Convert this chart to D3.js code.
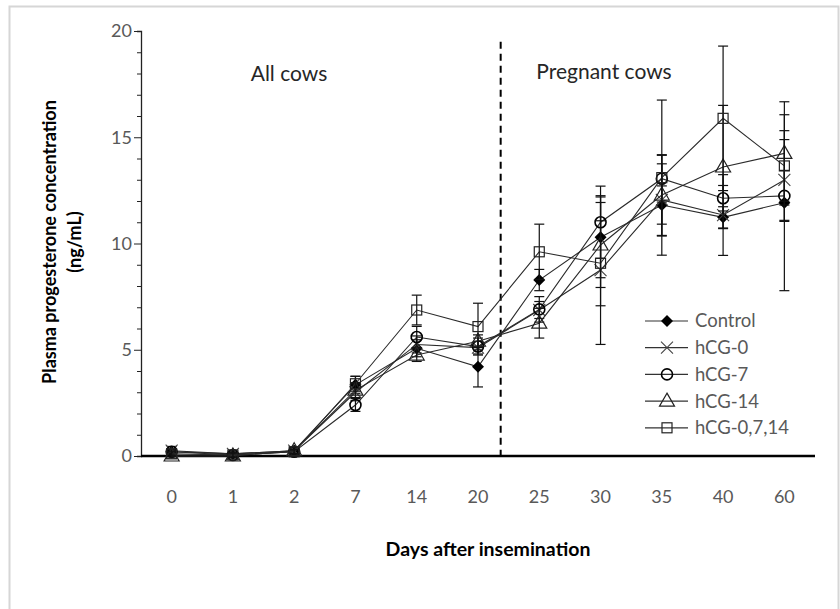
<!DOCTYPE html>
<html lang="en">
<head>
  <meta charset="UTF-8">
  <title>Plasma progesterone</title>
  <script src="https://cdn.jsdelivr.net/npm/d3@7"></script>
  <style>
    body { margin: 0; background: #fff; }
    text { font-family: Lato, "Open Sans", sans-serif; }
  </style>
</head>
<body>
  <div id="chart"></div>

  <script>
    // data
    const days = ["0", "1", "2", "7", "14", "20", "25", "30", "35", "40", "60"];
    const seriesNames = ["Control", "hCG-0", "hCG-7", "hCG-14", "hCG-0,7,14"];
    const control   = [0.2, 0.1, 0.25, 3.35, 5.07, 4.2, 8.28, 10.29, 11.81, 11.23, 11.92];
    const hcg0      = [0.25, 0.1, 0.25, 3.0, 5.25, 5.1, 6.87, 8.75, 12.05, 11.34, 12.99];
    const hcg7      = [0.2, 0.05, 0.2, 2.4, 5.6, 5.15, 6.9, 11.0, 13.05, 12.13, 12.24];
    const hcg14     = [0, 0, 0.25, 3.1, 4.75, 5.4, 6.25, 9.93, 12.28, 13.6, 14.24];
    const hcg0714   = [0.1, 0.05, 0.2, 3.4, 6.87, 6.09, 9.61, 9.07, 13.1, 15.89, 13.65];
    const controlErr = [0.15, 0.1, 0.1, 0.4, 0.4, 0.95, 0.5, 1.9, 0.9, 0.5, 4.14];
    const hcg0Err    = [0.2, 0.1, 0.15, 0.4, 0.4, 0.3, 0.4, 3.5, 1.7, 1.9, 1.9];
    const hcg7Err    = [0.1, 0.1, 0.1, 0.3, 0.5, 0.4, 0.6, 1.7, 1.1, 0.6, 1.2];
    const hcg14Err   = [0.1, 0.1, 0.15, 0.35, 0.3, 0.3, 0.7, 2.0, 1.9, 2.9, 2.43];
    const hcg0714Err = [0.1, 0.1, 0.1, 0.35, 0.7, 1.1, 1.3, 2.0, 3.65, 3.4, 1.66];
    const yTicks = [0, 5, 10, 15, 20];

    const width = 840,
      height = 609;

    const svg = d3.select('#chart')
      .append('svg')
        .attr('width', width)
        .attr('height', height);

    // light frame round the figure
    svg.append('rect')
      .attr('x', 9.5).attr('y', 6.5)
      .attr('width', 829).attr('height', 620)
      .attr('fill', 'none')
      .attr('stroke', '#d6d6d6')
      .attr('stroke-width', 2);

    const x = d3.scalePoint()
      .domain(days)
      .range([141, 815])
      .padding(0.5);

    const y = d3.scaleLinear()
      .domain([0, 20])
      .range([456, 31]);

    // y axis with minor ticks
    const yAxis = svg.append('g')
      .attr('transform', 'translate(141,0)')
      .call(d3.axisLeft(y).tickValues(d3.range(0, 21, 1)).tickSize(4).tickFormat(''));
    yAxis.selectAll('.tick line').attr('stroke', '#222');
    yAxis.select('.domain').attr('stroke', '#222').attr('stroke-width', 1.3);
    yAxis.selectAll('.tick')
      .filter(d => yTicks.includes(d))
      .select('line').attr('x2', -7);

    svg.append('g')
      .selectAll('text')
      .data(yTicks)
      .join('text')
        .attr('x', 132)
        .attr('y', d => y(d))
        .attr('dy', '0.35em')
        .attr('text-anchor', 'end')
        .attr('fill', '#595959')
        .style('font-size', '18px')
        .text(d => d);

    // x axis
    svg.append('line')
      .attr('x1', 141).attr('x2', 815)
      .attr('y1', y(0)).attr('y2', y(0))
      .attr('stroke', '#000')
      .attr('stroke-width', 2.5);

    svg.append('g')
      .selectAll('text')
      .data(days)
      .join('text')
        .attr('x', d => x(d))
        .attr('y', 497)
        .attr('dy', '0.35em')
        .attr('text-anchor', 'middle')
        .attr('fill', '#595959')
        .style('font-size', '18px')
        .text(d => d);

    // axis titles
    svg.append('text')
      .attr('transform', 'translate(50,242) rotate(-90)')
      .attr('dy', '0.35em')
      .attr('text-anchor', 'middle')
      .style('font-size', '18px')
      .style('font-weight', 'bold')
      .text('Plasma progesterone concentration');
    svg.append('text')
      .attr('transform', 'translate(75,242) rotate(-90)')
      .attr('dy', '0.35em')
      .attr('text-anchor', 'middle')
      .style('font-size', '18px')
      .style('font-weight', 'bold')
      .text('(ng/mL)');
    svg.append('text')
      .attr('x', 488).attr('y', 549)
      .attr('dy', '0.35em')
      .attr('text-anchor', 'middle')
      .style('font-size', '19.5px')
      .style('font-weight', 'bold')
      .text('Days after insemination');

    // divider between all cows and pregnant cows
    const step = x.step();
    const divX = x('20') + step * 0.37;
    svg.append('line')
      .attr('x1', divX).attr('x2', divX)
      .attr('y1', y(19.5)).attr('y2', y(0))
      .attr('stroke', '#000')
      .attr('stroke-width', 2)
      .attr('stroke-dasharray', '7,5');

    svg.append('text')
      .attr('x', 289).attr('y', 74)
      .attr('dy', '0.35em')
      .attr('text-anchor', 'middle')
      .attr('fill', '#262626')
      .style('font-size', '21px')
      .text('All cows');
    svg.append('text')
      .attr('x', 604).attr('y', 72)
      .attr('dy', '0.35em')
      .attr('text-anchor', 'middle')
      .attr('fill', '#262626')
      .style('font-size', '21px')
      .text('Pregnant cows');

    // series
    const series = [
      {name: seriesNames[0], values: control, err: controlErr, shape: 'diamond'},
      {name: seriesNames[1], values: hcg0, err: hcg0Err, shape: 'x'},
      {name: seriesNames[2], values: hcg7, err: hcg7Err, shape: 'circle'},
      {name: seriesNames[3], values: hcg14, err: hcg14Err, shape: 'triangle'},
      {name: seriesNames[4], values: hcg0714, err: hcg0714Err, shape: 'square'}
    ];

    function drawMarker(g, shape) {
      if (shape === 'diamond') {
        g.append('path')
          .attr('d', 'M0,-6L6,0L0,6L-6,0Z')
          .attr('fill', '#000');
      } else if (shape === 'x') {
        g.append('path')
          .attr('d', 'M-6,-6L6,6M-6,6L6,-6')
          .attr('stroke', '#444')
          .attr('stroke-width', 1.1);
      } else if (shape === 'circle') {
        g.append('circle')
          .attr('r', 5.5)
          .attr('fill', 'none')
          .attr('stroke', '#000')
          .attr('stroke-width', 1.6);
      } else if (shape === 'triangle') {
        g.append('path')
          .attr('d', 'M0,-8L7.5,5L-7.5,5Z')
          .attr('fill', 'none')
          .attr('stroke', '#222')
          .attr('stroke-width', 1.2);
      } else if (shape === 'square') {
        g.append('rect')
          .attr('x', -5).attr('y', -5)
          .attr('width', 10).attr('height', 10)
          .attr('fill', 'none')
          .attr('stroke', '#222')
          .attr('stroke-width', 1.2);
      }
    }

    const line = d3.line()
      .x((d, i) => x(days[i]))
      .y(d => y(d));

    series.forEach(s => {
      const g = svg.append('g');

      g.append('path')
        .attr('d', line(s.values))
        .attr('fill', 'none')
        .attr('stroke', '#2a2a2a')
        .attr('stroke-width', 1.1);

      // error bars
      const eb = g.selectAll('g.err')
        .data(s.values.map((v, i) => ({day: days[i], v, e: s.err[i]})))
        .join('g');
      eb.append('line')
        .attr('x1', d => x(d.day)).attr('x2', d => x(d.day))
        .attr('y1', d => y(d.v - d.e)).attr('y2', d => y(d.v + d.e))
        .attr('stroke', '#111').attr('stroke-width', 1.2);
      [-1, 1].forEach(sign => {
        eb.append('line')
          .attr('x1', d => x(d.day) - 5).attr('x2', d => x(d.day) + 5)
          .attr('y1', d => y(d.v + sign * d.e)).attr('y2', d => y(d.v + sign * d.e))
          .attr('stroke', '#111').attr('stroke-width', 1.2);
      });

      s.values.forEach((v, i) => {
        const m = g.append('g')
          .attr('transform', `translate(${x(days[i])},${y(v)})`);
        drawMarker(m, s.shape);
      });
    });

    // legend
    const legend = svg.append('g')
      .attr('transform', 'translate(645,321)');
    series.forEach((s, i) => {
      const row = legend.append('g')
        .attr('transform', `translate(0,${i * 26.7})`);
      row.append('line')
        .attr('x1', 0).attr('x2', 43)
        .attr('stroke', '#333').attr('stroke-width', 1.2);
      drawMarker(row.append('g').attr('transform', 'translate(22,0)'), s.shape);
      row.append('text')
        .attr('x', 50)
        .attr('dy', '0.35em')
        .attr('fill', '#595959')
        .style('font-size', '18.5px')
        .text(s.name);
    });
  </script>
</body>
</html>
